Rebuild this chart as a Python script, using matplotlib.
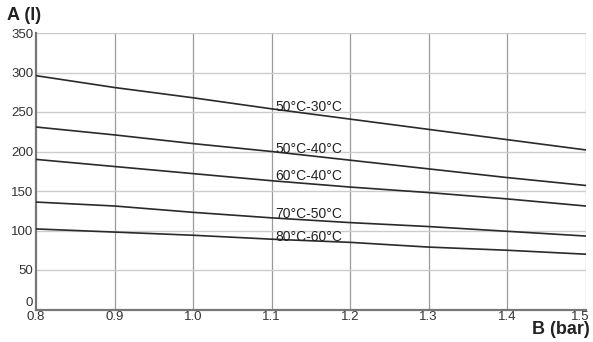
import numpy as np
import matplotlib.pyplot as plt

plt.rcParams['font.family'] = ['Liberation Sans', 'DejaVu Sans']

# pressure (bar) and volume (l) per temperature pair
pressure = [0.8, 0.9, 1.0, 1.1, 1.2, 1.3, 1.4, 1.5]
curve_labels = ['50°C-30°C', '50°C-40°C', '60°C-40°C', '70°C-50°C', '80°C-60°C']
vol_50_30 = [296, 281, 268, 254, 241, 228, 215, 202]
vol_50_40 = [231, 221, 210, 200, 189, 178, 167, 157]
vol_60_40 = [190, 181, 172, 163, 155, 148, 140, 131]
vol_70_50 = [136, 131, 123, 116, 110, 105, 99, 93]
vol_80_60 = [102, 98, 94, 89, 85, 79, 75, 70]
label_y = [256, 203, 169, 121, 92]

x_ticks = [0.8, 0.9, 1.0, 1.1, 1.2, 1.3, 1.4, 1.5]
y_ticks = [0, 50, 100, 150, 200, 250, 300, 350]

fig = plt.figure(figsize=(5.93, 3.42), dpi=100)
ax = fig.add_axes([36/593, 1 - 309.5/342, (585.7-36)/593, (309.5-33)/342])

series = [vol_50_30, vol_50_40, vol_60_40, vol_70_50, vol_80_60]
for vals, lab, ly in zip(series, curve_labels, label_y):
    ax.plot(pressure, vals, color='#2a2a2a', lw=1.2, zorder=3)
    ax.text(1.105, ly, lab, fontsize=10, color='#222222', va='center', ha='left', zorder=4)

ax.set_xlim(0.8, 1.5)
ax.set_ylim(0, 350)
ax.set_xticks(x_ticks)
# last x label drawn separately so it stays inside the figure
ax.set_xticklabels([f'{v:.1f}' for v in x_ticks[:-1]] + [''])
ax.annotate(f'{x_ticks[-1]:.1f}', xy=(x_ticks[-1], 0), xytext=(-4, -1),
            textcoords='offset points', ha='center', va='top',
            fontsize=9.5, color='#333333', annotation_clip=False)
ax.set_yticks(y_ticks)
ax.set_yticklabels([str(v) for v in y_ticks])
ax.get_yticklabels()[0].set_va('bottom')

# grid: vertical lines darker than horizontal
for xv in x_ticks[1:]:
    ax.axvline(xv, color='#9a9a9a', lw=0.9, zorder=1)
for yv in y_ticks[1:]:
    ax.axhline(yv, color='#cccccc', lw=1.0, zorder=1)

for side in ['top', 'right']:
    ax.spines[side].set_visible(False)
for side in ['left', 'bottom']:
    ax.spines[side].set_color('#777777')
    ax.spines[side].set_linewidth(1.6)

ax.tick_params(length=0, labelsize=9.5, colors='#333333', pad=2)
ax.tick_params(axis='x', pad=1)

fig.text(7/593, 1 - 15/342, 'A (l)', fontsize=13, fontweight='bold', color='#222222',
         va='center', ha='left')
fig.text(590/593, 1 - 330/342, 'B (bar)', fontsize=13, fontweight='bold', color='#222222',
         va='center', ha='right')

fig.savefig('out.png', dpi=100)
